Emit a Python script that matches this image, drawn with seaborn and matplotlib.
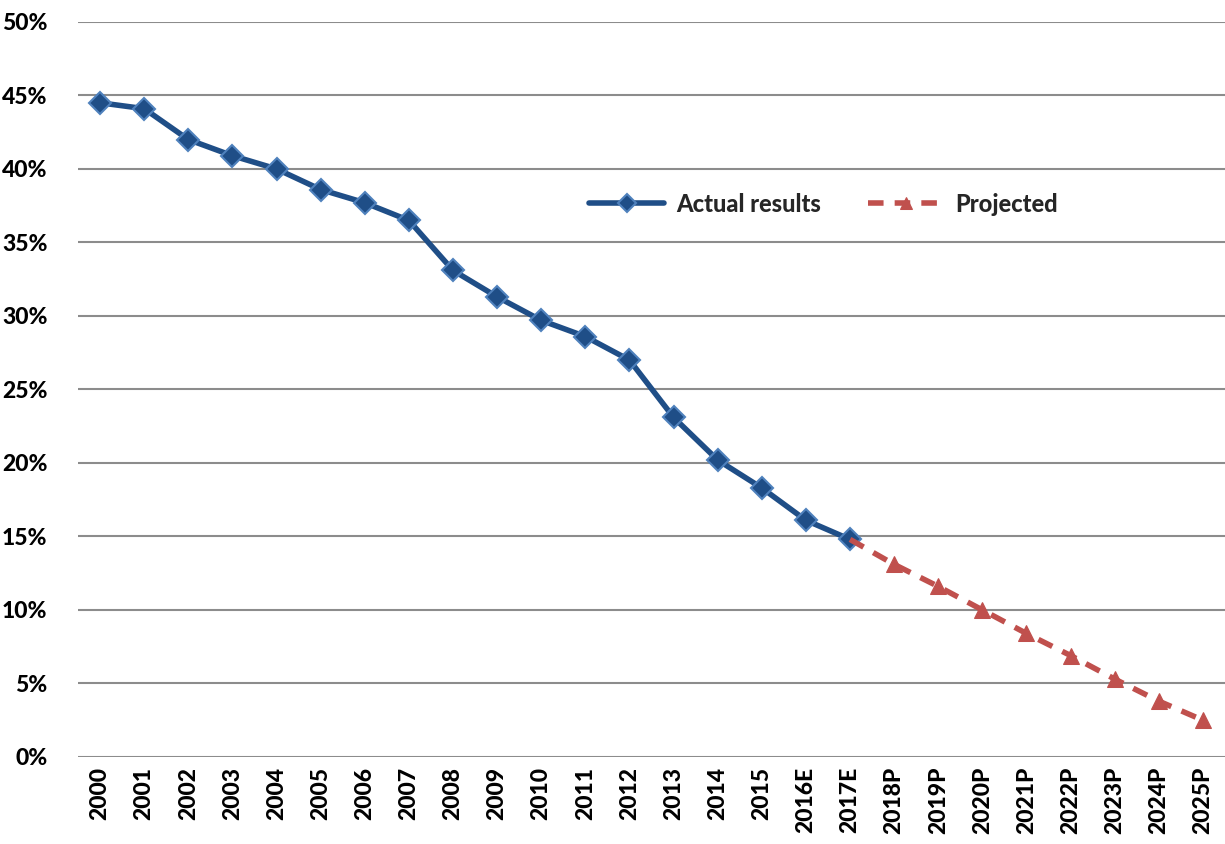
import matplotlib
matplotlib.use("Agg")
import matplotlib.pyplot as plt
import seaborn as sns
import pandas as pd
import numpy as np
from matplotlib.ticker import FuncFormatter

categories = ["2000", "2001", "2002", "2003", "2004", "2005", "2006", "2007", "2008",
              "2009", "2010", "2011", "2012", "2013", "2014", "2015", "2016E", "2017E",
              "2018P", "2019P", "2020P", "2021P", "2022P", "2023P", "2024P", "2025P"]
actual = [44.5, 44.1, 42.0, 40.9, 40.0, 38.6, 37.7, 36.5, 33.1, 31.3, 29.7, 28.6, 27.0,
          23.1, 20.2, 18.3, 16.1, 14.8]
projected_cats = ["2017E", "2018P", "2019P", "2020P", "2021P", "2022P", "2023P", "2024P", "2025P"]
projected = [14.8, 13.1, 11.6, 10.0, 8.4, 6.9, 5.3, 3.8, 2.5]

sns.set_theme(style="white")
plt.rcParams['font.family'] = ['Lato', 'DejaVu Sans']

pos = {c: i for i, c in enumerate(categories)}
df_a = pd.DataFrame({"x": [pos[c] for c in categories[:len(actual)]], "y": actual})
df_p = pd.DataFrame({"x": [pos[c] for c in projected_cats], "y": projected})

fig = plt.figure(figsize=(12.25, 8.44), dpi=100)
ax = fig.add_axes([0.0637, 0.1031, 0.9363, 0.8709])

navy = "#1F4E87"
red = "#C0504D"

sns.lineplot(data=df_a, x="x", y="y", ax=ax, color=navy, linewidth=4,
             marker="D", markersize=11, markerfacecolor=navy, markeredgecolor="#4F81BD",
             markeredgewidth=1.5, label="Actual results", zorder=3)
sns.lineplot(data=df_p, x="x", y="y", ax=ax, color=red, linewidth=4,
             linestyle=(0, (2.8, 2.0)), marker="^", markersize=11, markerfacecolor=red,
             markeredgecolor=red, markevery=list(range(1, len(projected))),
             label="Projected", zorder=4)

ax.set_xlim(-0.5, len(categories) - 0.5)
ax.set_ylim(0, 50)
ax.set_yticks(np.arange(0, 51, 5))
ax.yaxis.set_major_formatter(FuncFormatter(lambda v, p: f"{int(v)}%"))
ax.set_xticks(range(len(categories)))
ax.set_xticklabels(categories, rotation=90)
for lbl in ax.get_xticklabels() + ax.get_yticklabels():
    lbl.set_fontweight("black")
    lbl.set_fontsize(16.5)
    lbl.set_color("black")
ax.tick_params(axis="y", pad=22, length=0)
ax.tick_params(axis="x", pad=7, length=0)
ax.set_xlabel("")
ax.set_ylabel("")
ax.grid(axis="y", color="#8C8C8C", linewidth=1.5)
ax.set_axisbelow(True)
for s in ax.spines.values():
    s.set_visible(False)

leg = ax.legend(loc="center", bbox_to_anchor=(0.65, 0.752), ncol=2, frameon=False,
                prop={"weight": "black", "size": 17}, handlelength=3.2, columnspacing=2.0,
                handletextpad=0.5, markerscale=0.85)

fig.savefig("out.png", dpi=100)
